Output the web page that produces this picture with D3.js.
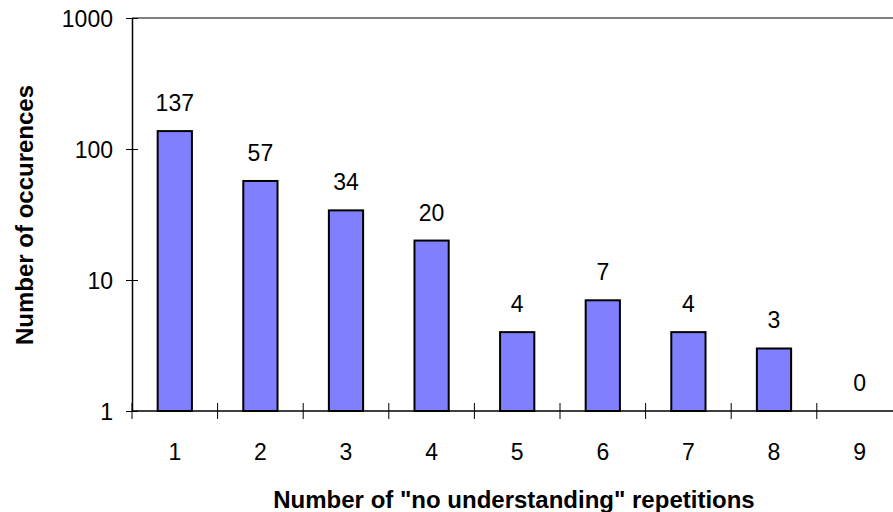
<!DOCTYPE html>
<html><head><meta charset="utf-8">
<script src="https://cdn.jsdelivr.net/npm/d3@7"></script>
<style>body{margin:0;background:#fff;} text{font-family:Arial,"Liberation Sans",sans-serif;}</style>
</head><body>
<svg id="c" width="893" height="512"></svg>
<script>
const categories = ["1","2","3","4","5","6","7","8","9"];
const values = [137,57,34,20,4,7,4,3,0];
const yTicks = [1,10,100,1000];

const svg = d3.select("#c");
const L = 132, T = 18, B = 411, step = 85.6;
const x = d3.scaleBand().domain(categories).range([L, L + step*categories.length]).paddingInner(0.6).paddingOuter(0.3);
const y = d3.scaleLog().domain([1,1000]).range([B, T]);

// top border
svg.append("line").attr("x1",L).attr("x2",893).attr("y1",T).attr("y2",T).attr("stroke","#808080").attr("stroke-width",2);

// bars
svg.selectAll("rect.bar").data(values.map((v,i)=>({c:categories[i],v})).filter(d=>d.v>0))
  .enter().append("rect").attr("class","bar")
  .attr("x",d=>x(d.c)).attr("width",x.bandwidth())
  .attr("y",d=>y(d.v)).attr("height",d=>B - y(d.v))
  .attr("fill","#8080FF").attr("stroke","#000").attr("stroke-width",2);

// labels
svg.selectAll("text.lab").data(values.map((v,i)=>({c:categories[i],v})))
  .enter().append("text").attr("class","lab")
  .attr("x",d=>x(d.c)+x.bandwidth()/2).attr("y",d=>y(Math.max(d.v,1))-20)
  .attr("text-anchor","middle").attr("font-size",23).text(d=>d.v);

// y axis
const ya = d3.axisLeft(y).tickValues(yTicks).tickFormat(d3.format("d")).tickSize(0);
const yg = svg.append("g").attr("transform",`translate(${L},0)`).call(ya);
yg.select(".domain").attr("stroke","#000").attr("stroke-width",1.5);
yg.selectAll("text").attr("font-size",23).attr("fill","#000").attr("x",-19).attr("dy","0.35em");
yg.selectAll(".tick").append("line").attr("x1",-6).attr("x2",6).attr("stroke","#000");

// x axis
const xa = d3.axisBottom(x).tickSize(0);
const xg = svg.append("g").attr("transform",`translate(0,${B})`).call(xa);
xg.select(".domain").attr("d",`M${L},0H893`).attr("stroke","#000").attr("stroke-width",1.5);
xg.selectAll("text").attr("font-size",23).attr("fill","#000").attr("y",49).attr("dy",0);
const bounds = d3.range(categories.length).map(i => L + i*step);
xg.selectAll("line.bt").data(bounds).enter().append("line").attr("class","bt")
  .attr("x1",d=>d).attr("x2",d=>d).attr("y1",-8).attr("y2",8).attr("stroke","#000");

// titles
svg.append("text").attr("x",514).attr("y",508).attr("text-anchor","middle")
  .attr("font-size",24).attr("font-weight","bold").text('Number of "no understanding" repetitions');
svg.append("text").attr("transform","translate(33,215) rotate(-90)").attr("text-anchor","middle")
  .attr("font-size",24).attr("font-weight","bold").text("Number of occurences");
</script>
</body></html>
